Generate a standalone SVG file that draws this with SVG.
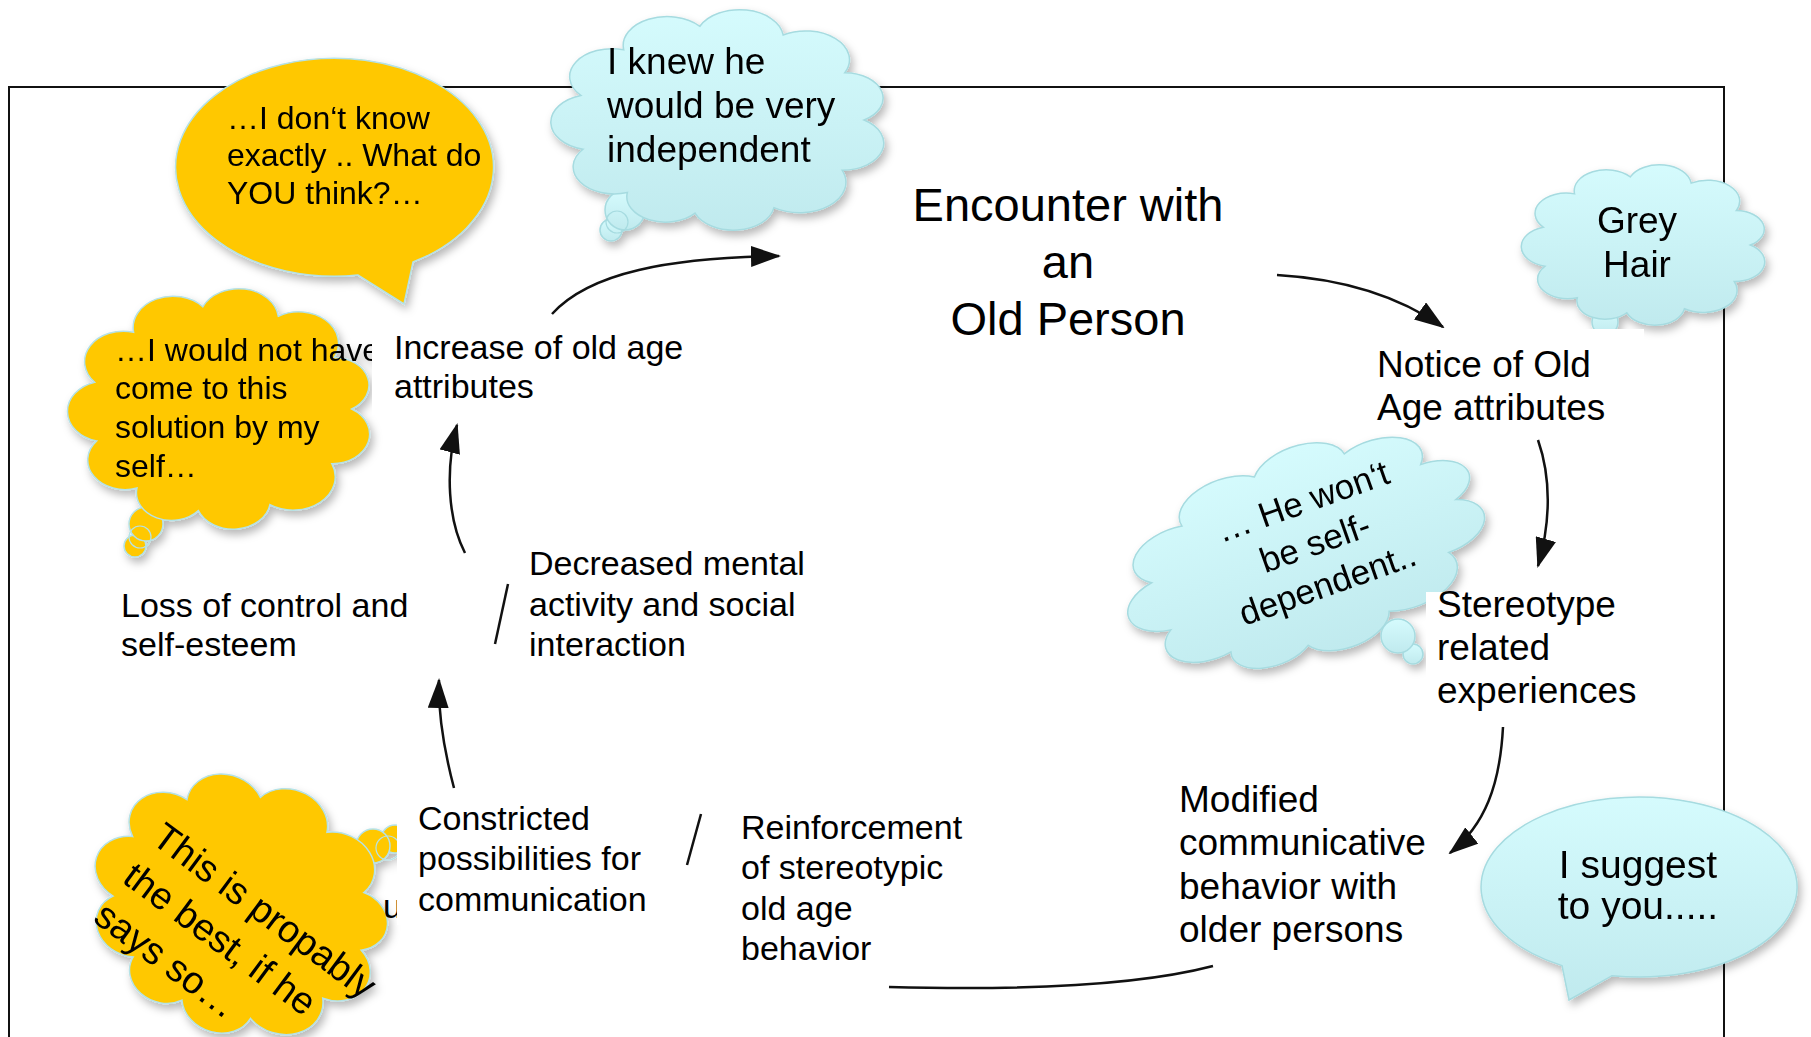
<svg xmlns="http://www.w3.org/2000/svg" width="1811" height="1037" viewBox="0 0 1811 1037">
<style>
.t{font-family:"Liberation Sans",Arial,sans-serif;fill:#000}
.f32{font-size:32px}.f34{font-size:34px}.f35{font-size:35px}.f37{font-size:37px}.f38{font-size:38px}.f39{font-size:39px}.f47{font-size:47px}
.mid{text-anchor:middle}
.cy{fill:url(#gc);stroke:#a6dbe0;stroke-width:1.5}
.ye{fill:#ffc800;stroke:#b5e2e7;stroke-width:1.5}
.ol{fill:none;stroke:#b5e2e7;stroke-width:1.2}
.conn{fill:none;stroke:#111;stroke-width:2.5}
.box{fill:#fff}
</style>
<defs>
<linearGradient id="gc" x1="0" y1="0" x2="0" y2="1">
<stop offset="0" stop-color="#d5fbfd"/>
<stop offset="1" stop-color="#c0eaee"/>
</linearGradient>
<filter id="sh" x="-10%" y="-10%" width="125%" height="130%">
<feDropShadow dx="3" dy="5" stdDeviation="4" flood-color="#000" flood-opacity="0.28"/>
</filter>
<marker id="ah" viewBox="0 0 30 21" refX="28" refY="10.5" markerWidth="30" markerHeight="21" markerUnits="userSpaceOnUse" orient="auto">
<path d="M0,0 L30,10.5 L0,21 Z" fill="#111"/>
</marker>
<path id="cloud" vector-effect="non-scaling-stroke" d="M86,0 A24.6,24.6 0 0 1 72.9,45.6 A27.7,27.7 0 0 1 32.2,79.7 A24.6,24.6 0 0 1 -14.9,84.7 A23.1,23.1 0 0 1 -55.3,65.9 A24.6,24.6 0 0 1 -81.8,26.6 A25.4,25.4 0 0 1 -83.1,-22.3 A25.4,25.4 0 0 1 -57.5,-63.9 A26.2,26.2 0 0 1 -12,-85.2 A26.2,26.2 0 0 1 37.7,-77.3 A26.2,26.2 0 0 1 74.5,-43 A23.1,23.1 0 0 1 86,0 Z"/>
</defs>
<rect width="1811" height="1037" fill="#fff"/>
<rect id="frame" x="9" y="87" width="1715" height="1000" fill="#fff" stroke="#111" stroke-width="2"/>

<g id="connectors">
<path class="conn" d="M1277,275 C1345,279 1400,297 1443,327" marker-end="url(#ah)"/>
<path class="conn" d="M1538,440 C1552,480 1550,525 1538,566" marker-end="url(#ah)"/>
<path class="conn" d="M1503,727 C1500,785 1485,825 1450,853" marker-end="url(#ah)"/>
<path class="conn" d="M1213,966 Q1110,993 889,987"/>
<path class="conn" d="M454,788 C444,750 438,715 439,680" marker-end="url(#ah)"/>
<path class="conn" d="M465,553 C448,520 445,470 457,425" marker-end="url(#ah)"/>
<path class="conn" d="M552,314 C590,272 670,258 779,256" marker-end="url(#ah)"/>
<path class="conn" d="M508,584 L495,644"/>
<path class="conn" d="M701,814 L687,865"/>
</g>

<g id="bubble-dont-know" filter="url(#sh)">
<path class="ye" d="M413,262 A159,109 0 1 0 358,275 L404,304 Z"/>
<text class="t f32" x="227" y="129">…I don‘t know</text>
<text class="t f32" x="227" y="166">exactly .. What do</text>
<text class="t f32" x="227" y="204">YOU think?…</text>
</g>

<g id="cloud-knew" filter="url(#sh)">
<circle class="cy" cx="611" cy="230" r="11"/>
<circle class="cy" cx="625" cy="210" r="20"/>
<circle class="ol" cx="617" cy="222" r="11" style="stroke:#a6dbe0"/>
<use href="#cloud" class="cy" transform="translate(720,120) scale(1.675,1.1)"/>
<text class="t f37" x="607" y="74">I knew he</text>
<text class="t f37" x="607" y="118">would be very</text>
<text class="t f37" x="607" y="162">independent</text>
</g>

<g id="cloud-grey" filter="url(#sh)">
<circle class="cy" cx="1605" cy="322" r="13"/>
<use href="#cloud" class="cy" transform="translate(1645,245) scale(1.225,0.8)"/>
<text class="t f37 mid" x="1637" y="233">Grey</text>
<text class="t f37 mid" x="1637" y="277">Hair</text>
</g>

<g id="cloud-wont" filter="url(#sh)">
<circle class="cy" cx="1413" cy="654" r="10"/>
<circle class="cy" cx="1398" cy="636" r="17"/>
<use href="#cloud" class="cy" transform="translate(1305,553) rotate(-19.5) scale(1.86,1.04)"/>
<g transform="translate(1319,554) rotate(-19.5)">
<text class="t f35 mid" x="2" y="-43">… He won‘t</text>
<text class="t f35 mid" x="0" y="0">be self-</text>
<text class="t f35 mid" x="-2" y="43">dependent..</text>
</g>
</g>

<g id="cloud-would-not" filter="url(#sh)">
<circle class="ye" cx="135" cy="546" r="11"/>
<circle class="ye" cx="146" cy="524" r="17"/>
<circle class="ol" cx="140" cy="537" r="11"/>
<use href="#cloud" class="ye" transform="translate(221,409) scale(1.52,1.2)"/>
<text class="t f32" x="115" y="361">…I would not have</text>
<text class="t f32" x="115" y="399">come to this</text>
<text class="t f32" x="115" y="438">solution by my</text>
<text class="t f32" x="115" y="477">self…</text>
</g>

<g id="cloud-propably" filter="url(#sh)">
<circle class="ye" cx="395" cy="839" r="14"/>
<circle class="ye" cx="373" cy="846" r="17"/>
<circle class="ol" cx="388" cy="848" r="12"/>
<use href="#cloud" class="ye" transform="translate(240,906) rotate(20) scale(1.5,1.28)"/>
<g transform="translate(150,842) rotate(36.5)">
<text class="t f38" x="0" y="0">This is propably</text>
<text class="t f38" x="0" y="49">the best, if he</text>
<text class="t f38" x="0" y="98">says so…</text>
</g>
</g>
<text class="t f34" x="383" y="918">u</text>

<g id="bubble-suggest" filter="url(#sh)">
<path class="cy" d="M1612,975.7 A158,90 0 1 0 1562,965.6 L1569,1000 Z"/>
<text class="t f39 mid" x="1638" y="878">I suggest</text>
<text class="t f39 mid" x="1638" y="919">to you.....</text>
</g>

<g id="node-encounter">
<text class="t f47 mid" x="1068" y="221">Encounter with</text>
<text class="t f47 mid" x="1068" y="278">an</text>
<text class="t f47 mid" x="1068" y="335">Old Person</text>
</g>
<g id="node-notice">
<rect class="box" x="1368" y="329" width="276" height="105"/>
<text class="t f37" x="1377" y="377">Notice of Old</text>
<text class="t f37" x="1377" y="420">Age attributes</text>
</g>
<g id="node-stereotype">
<rect class="box" x="1426" y="592" width="200" height="128"/>
<text class="t f37" x="1437" y="617">Stereotype</text>
<text class="t f37" x="1437" y="660">related</text>
<text class="t f37" x="1437" y="703">experiences</text>
</g>
<g id="node-modified">
<text class="t f37" x="1179" y="812">Modified</text>
<text class="t f37" x="1179" y="855">communicative</text>
<text class="t f37" x="1179" y="899">behavior with</text>
<text class="t f37" x="1179" y="942">older persons</text>
</g>
<g id="node-reinforcement">
<text class="t f34" x="741" y="839">Reinforcement</text>
<text class="t f34" x="741" y="879">of stereotypic</text>
<text class="t f34" x="741" y="920">old age</text>
<text class="t f34" x="741" y="960">behavior</text>
</g>
<g id="node-constricted">
<rect class="box" x="397" y="795" width="230" height="130"/>
<text class="t f34" x="418" y="830">Constricted</text>
<text class="t f34" x="418" y="870">possibilities for</text>
<text class="t f34" x="418" y="911">communication</text>
</g>
<g id="node-loss">
<text class="t f34" x="121" y="617">Loss of control and</text>
<text class="t f34" x="121" y="656">self-esteem</text>
</g>
<g id="node-decreased">
<text class="t f34" x="529" y="575">Decreased mental</text>
<text class="t f34" x="529" y="616">activity and social</text>
<text class="t f34" x="529" y="656">interaction</text>
</g>
<g id="node-increase">
<rect class="box" x="372" y="325" width="310" height="90"/>
<text class="t f34" x="394" y="359">Increase of old age</text>
<text class="t f34" x="394" y="398">attributes</text>
</g>
</svg>
